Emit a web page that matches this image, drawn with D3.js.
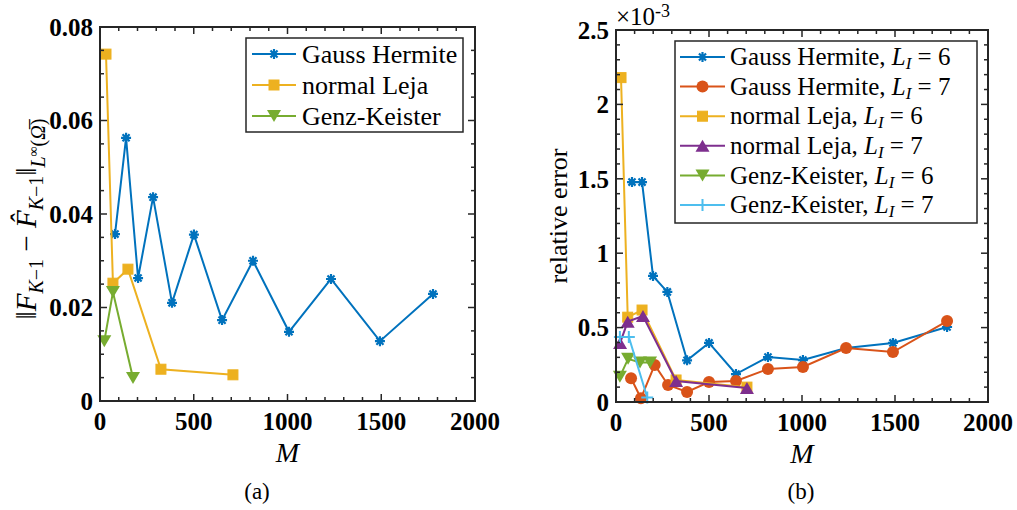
<!DOCTYPE html>
<html>
<head>
<meta charset="utf-8">
<script src="https://cdn.jsdelivr.net/npm/d3@7.9.0/dist/d3.min.js"></script>
<style>
  body { margin: 0; background: #fff; }
  svg text { font-family: "Liberation Serif", serif; fill: #000; }
</style>
</head>
<body>
<div id="chart"></div>
<script>
// ---- data ----
// (a) error of the surrogate
const ghM_a   = [80, 139, 203, 283, 384, 501, 651, 816, 1008, 1232, 1493, 1776];
const ghErr_a = [0.0357, 0.0563, 0.0263, 0.0436, 0.0210, 0.0356, 0.0173, 0.0300, 0.0148, 0.0261, 0.0128, 0.0229];
const lejaM_a   = [32, 69, 149, 325, 709];
const lejaErr_a = [0.0742, 0.0252, 0.0282, 0.0068, 0.0056];
const gkM_a   = [23, 69, 176];
const gkErr_a = [0.0128, 0.0233, 0.0049];

// (b) relative error, in units of 1e-3
const gh6M   = [86, 140, 199, 276, 382, 500, 645, 817, 1005, 1237, 1489, 1780];
const gh6Err = [1.478, 1.478, 0.847, 0.740, 0.280, 0.397, 0.188, 0.302, 0.282, 0.363, 0.397, 0.504];
const gh7M   = [81, 134, 208, 280, 382, 500, 645, 817, 1005, 1237, 1489, 1780];
const gh7Err = [0.160, 0.025, 0.249, 0.114, 0.067, 0.134, 0.141, 0.222, 0.235, 0.363, 0.336, 0.544];
const leja6M   = [27, 63, 140, 323, 704];
const leja6Err = [2.18, 0.570, 0.618, 0.148, 0.100];
const leja7M   = [22, 63, 145, 323, 704];
const leja7Err = [0.397, 0.540, 0.578, 0.141, 0.094];
const gk6M   = [21, 65, 129, 183];
const gk6Err = [0.170, 0.290, 0.265, 0.265];
const gk7M   = [21, 69, 168];
const gk7Err = [0.437, 0.437, 0.030];

const xTicks = [0, 500, 1000, 1500, 2000];
const yTicksA = [0, 0.02, 0.04, 0.06, 0.08];
const yTickLabelsA = ["0", "0.02", "0.04", "0.06", "0.08"];
const yTicksB = [0, 0.5, 1, 1.5, 2, 2.5];
const yTickLabelsB = ["0", "0.5", "1", "1.5", "2", "2.5"];

const C = {
  blue: "#0072BD", orange: "#D95319", yellow: "#EDB120",
  purple: "#7E2F8E", green: "#77AC30", cyan: "#4DBEEE"
};
const SERIF = "'Liberation Serif', serif";

const svg = d3.select("#chart").append("svg")
  .attr("width", 1017).attr("height", 510)
  .attr("font-family", SERIF);

// marker painter
function marker(g, type, color, x, y) {
  if (type === "star") {
    const r = 5;
    const d = [0, 45, 90, 135].map(a => {
      const c = Math.cos(a * Math.PI / 180) * r, s = Math.sin(a * Math.PI / 180) * r;
      return `M${x - c},${y - s}L${x + c},${y + s}`;
    }).join("");
    g.append("path").attr("d", d).attr("stroke", color).attr("stroke-width", 2.2).attr("fill", "none");
  } else if (type === "square") {
    g.append("rect").attr("x", x - 5).attr("y", y - 5).attr("width", 10).attr("height", 10)
      .attr("fill", color).attr("stroke", color);
  } else if (type === "circle") {
    g.append("circle").attr("cx", x).attr("cy", y).attr("r", 6).attr("fill", color);
  } else if (type === "tri-down") {
    g.append("path").attr("d", `M${x - 7},${y - 6}L${x + 7},${y - 6}L${x},${y + 6}Z`).attr("fill", color);
  } else if (type === "tri-up") {
    g.append("path").attr("d", `M${x - 7},${y + 6}L${x + 7},${y + 6}L${x},${y - 6}Z`).attr("fill", color);
  } else if (type === "plus") {
    g.append("path").attr("d", `M${x - 6},${y}L${x + 6},${y}M${x},${y - 6}L${x},${y + 6}`)
      .attr("stroke", color).attr("stroke-width", 2).attr("fill", "none");
  }
}

function panel(box, yMax, yTicks, yLabels, yMinor, series) {
  const x = d3.scaleLinear().domain([0, 2000]).range([box.left, box.right]);
  const y = d3.scaleLinear().domain([0, yMax]).range([box.bottom, box.top]);
  const g = svg.append("g");

  const line = d3.line().x(d => x(d[0])).y(d => y(d[1]));
  series.forEach(s => {
    const pts = s.M.map((m, i) => [m, s.err[i]]);
    g.append("path").datum(pts).attr("d", line)
      .attr("fill", "none").attr("stroke", s.color).attr("stroke-width", 2);
    pts.forEach(p => marker(g, s.marker, s.color, x(p[0]), y(p[1])));
  });

  // box and ticks (inside, on all four sides)
  const ax = svg.append("g");
  const axisCol = "#262626";
  d3.range(0, 2001, 100).forEach(v => {
    const len = v % 500 === 0 ? 7 : 4;
    ax.append("line").attr("x1", x(v)).attr("x2", x(v)).attr("y1", box.bottom).attr("y2", box.bottom - len)
      .attr("stroke", axisCol).attr("stroke-width", 1.5);
    ax.append("line").attr("x1", x(v)).attr("x2", x(v)).attr("y1", box.top).attr("y2", box.top + len)
      .attr("stroke", axisCol).attr("stroke-width", 1.5);
  });
  d3.range(0, Math.round(yMax / yMinor) + 1).forEach(i => {
    const v = i * yMinor;
    const major = yTicks.some(t => Math.abs(t - v) < 1e-9);
    const len = major ? 7 : 4;
    ax.append("line").attr("y1", y(v)).attr("y2", y(v)).attr("x1", box.left).attr("x2", box.left + len)
      .attr("stroke", axisCol).attr("stroke-width", 1.5);
    ax.append("line").attr("y1", y(v)).attr("y2", y(v)).attr("x1", box.right).attr("x2", box.right - len)
      .attr("stroke", axisCol).attr("stroke-width", 1.5);
  });
  ax.append("rect").attr("x", box.left).attr("y", box.top)
    .attr("width", box.right - box.left).attr("height", box.bottom - box.top)
    .attr("fill", "none").attr("stroke", axisCol).attr("stroke-width", 2);

  // tick labels
  xTicks.forEach(v => {
    ax.append("text").attr("x", x(v)).attr("y", box.bottom + 29)
      .attr("text-anchor", "middle").attr("font-weight", "bold").attr("font-size", 25)
      .text(v);
  });
  yTicks.forEach((v, i) => {
    ax.append("text").attr("x", box.left - 7).attr("y", y(v)).attr("dy", "0.35em")
      .attr("text-anchor", "end").attr("font-weight", "bold").attr("font-size", 25)
      .text(yLabels[i]);
  });

  // x label
  ax.append("text").attr("x", (box.left + box.right) / 2).attr("y", box.bottom + 61)
    .attr("text-anchor", "middle").attr("font-style", "italic").attr("font-size", 28).text("M");

  return { x, y, ax };
}

function legend(box, rowH, lineX, textX, fontSize, entries) {
  const g = svg.append("g");
  g.append("rect").attr("x", box.x).attr("y", box.y).attr("width", box.w).attr("height", box.h)
    .attr("fill", "#fff").attr("stroke", "#262626").attr("stroke-width", 1.5);
  entries.forEach((e, i) => {
    const cy = box.y + 16 + i * rowH;
    g.append("line").attr("x1", box.x + lineX[0]).attr("x2", box.x + lineX[1]).attr("y1", cy).attr("y2", cy)
      .attr("stroke", e.color).attr("stroke-width", 2);
    marker(g, e.marker, e.color, box.x + (lineX[0] + lineX[1]) / 2, cy);
    const t = g.append("text").attr("x", box.x + textX).attr("y", cy).attr("dy", "0.33em")
      .attr("font-family", SERIF).attr("font-size", fontSize);
    t.append("tspan").text(e.name);
    if (e.level) {
      t.append("tspan").text(", ");
      t.append("tspan").attr("font-style", "italic").text("L");
      t.append("tspan").attr("font-style", "italic").attr("font-size", 17).attr("dy", 4).text("I");
      t.append("tspan").attr("dy", -4).text(" = " + e.level);
    }
  });
}

// ---- panel (a) ----
const seriesA = [
  { name: "Gauss Hermite", M: ghM_a, err: ghErr_a, color: C.blue, marker: "star" },
  { name: "normal Leja", M: lejaM_a, err: lejaErr_a, color: C.yellow, marker: "square" },
  { name: "Genz-Keister", M: gkM_a, err: gkErr_a, color: C.green, marker: "tri-down" }
];
const boxA = { left: 100, right: 475, top: 27, bottom: 401 };
panel(boxA, 0.08, yTicksA, yTickLabelsA, 0.005, seriesA);
legend({ x: 246, y: 38, w: 217, h: 94 }, 31, [6, 50], 56, 26, seriesA);

// y label (a)
const yl = svg.append("text").attr("transform", "translate(36,219) rotate(-90)")
  .attr("text-anchor", "middle").attr("font-size", 29);
yl.append("tspan").text("\u2016");
yl.append("tspan").attr("font-style", "italic").text("F");
yl.append("tspan").attr("font-size", 20).attr("dy", 7).attr("font-style", "italic").text("K");
yl.append("tspan").attr("font-size", 20).text("\u22121");
yl.append("tspan").attr("dy", -7).text(" \u2212 ");
yl.append("tspan").attr("font-style", "italic").text("F\u0302");
yl.append("tspan").attr("font-size", 20).attr("dy", 7).attr("font-style", "italic").text("K");
yl.append("tspan").attr("font-size", 20).text("\u22121");
yl.append("tspan").attr("dy", -7).text("\u2016");
yl.append("tspan").attr("font-size", 20).attr("dy", 9).attr("font-style", "italic").text("L");
yl.append("tspan").attr("font-size", 14).attr("dy", -7).text("\u221E");
yl.append("tspan").attr("font-size", 20).attr("dy", 7).text("(");
yl.append("tspan").attr("font-size", 20).attr("font-style", "italic").text("\u03A9\u0305");
yl.append("tspan").attr("font-size", 20).text(")");

// ---- panel (b) ----
const seriesB = [
  { name: "Gauss Hermite", level: 6, M: gh6M, err: gh6Err, color: C.blue, marker: "star" },
  { name: "Gauss Hermite", level: 7, M: gh7M, err: gh7Err, color: C.orange, marker: "circle" },
  { name: "normal Leja", level: 6, M: leja6M, err: leja6Err, color: C.yellow, marker: "square" },
  { name: "normal Leja", level: 7, M: leja7M, err: leja7Err, color: C.purple, marker: "tri-up" },
  { name: "Genz-Keister", level: 6, M: gk6M, err: gk6Err, color: C.green, marker: "tri-down" },
  { name: "Genz-Keister", level: 7, M: gk7M, err: gk7Err, color: C.cyan, marker: "plus" }
];
const boxB = { left: 616, right: 988, top: 30, bottom: 402 };
panel(boxB, 2.5, yTicksB, yTickLabelsB, 0.1, seriesB);
legend({ x: 675, y: 41, w: 302, h: 182 }, 29.6, [5, 50], 55, 25, seriesB);

// exponent
const ex = svg.append("text").attr("x", 616).attr("y", 25).attr("font-size", 25);
ex.append("tspan").text("\u00D710");
ex.append("tspan").attr("font-size", 18).attr("dy", -8).text("-3");

svg.append("text").attr("transform", "translate(567,216) rotate(-90)")
  .attr("text-anchor", "middle").attr("font-size", 26).text("relative error");

// captions
svg.append("text").attr("x", 257).attr("y", 499).attr("text-anchor", "middle").attr("font-size", 23).text("(a)");
svg.append("text").attr("x", 801).attr("y", 499).attr("text-anchor", "middle").attr("font-size", 23).text("(b)");
</script>
</body>
</html>
